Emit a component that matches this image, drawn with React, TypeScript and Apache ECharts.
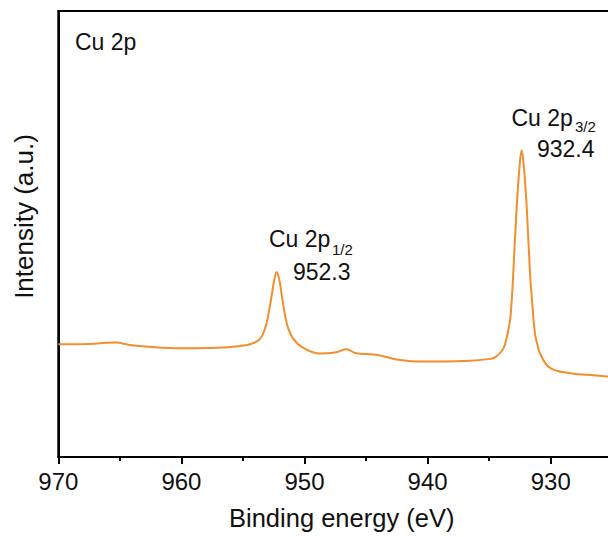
import React, { useEffect, useRef } from "react";
import * as echarts from "echarts";

// Binding energy (eV) and intensity (a.u., 0-100 scale)
const energies = [
  970.0, 968.0, 966.6, 965.3, 964.2, 962.6, 959.9, 957.1, 955.24, 954.29,
  953.61, 953.21, 952.94, 952.66, 952.47, 952.26, 952.03, 951.85, 951.58, 951.32,
  950.91, 950.23, 948.74, 947.4, 946.6, 945.8, 944.4, 943.6, 942.9, 942.2,
  940.9, 938.5, 937.1, 934.9, 934.39, 933.85, 933.57, 933.31, 933.17, 933.04,
  932.76, 932.54, 932.36, 932.17, 931.95, 931.68, 931.52, 931.28, 931.07, 930.87,
  930.06, 928.43, 926.81, 925.43, 924.5,
];
const intensities = [
  25.3, 25.3, 25.5, 25.7, 25.1, 24.7, 24.4, 24.5, 24.9, 25.4,
  26.5, 28.8, 31.8, 36.3, 39.5, 41.5, 39.5, 36.3, 31.8, 28.8,
  26.5, 24.7, 23.2, 23.5, 24.15, 23.25, 23.0, 22.6, 22.1, 21.75,
  21.4, 21.4, 21.5, 22.0, 22.6, 24.3, 26.8, 30.5, 35.0, 41.2,
  56.1, 64.8, 68.8, 64.8, 56.1, 41.2, 35.2, 27.7, 25.1, 23.2,
  20.0, 18.8, 18.4, 18.05, 17.9,
];

const xMin = 920;
const xMax = 970;
const xInterval = 10;

const FONT = "'Liberation Sans', Arial, sans-serif";
const LINE_COLOR = "#F28E2B";
const TEXT_COLOR = "#111";

export default function App() {
  const ref = useRef<HTMLDivElement>(null);

  useEffect(() => {
    if (!ref.current) return;
    document.body.style.overflow = "hidden";
    const chart = echarts.init(ref.current, undefined, { renderer: "svg" });
    const label = (text: string, x: number, y: number, fontSize = 23) => ({
      type: "text",
      x,
      y,
      style: {
        text,
        fontSize,
        fontFamily: FONT,
        fill: TEXT_COLOR,
        align: "left",
        verticalAlign: "middle",
      },
    });
    chart.setOption({
      animation: false,
      backgroundColor: "#ffffff",
      grid: {
        left: 58.3,
        top: 11,
        width: 615.5,
        height: 446,
        show: true,
        borderColor: "#000",
        borderWidth: 2,
        backgroundColor: "transparent",
      },
      xAxis: {
        type: "value",
        inverse: true,
        min: xMin,
        max: xMax,
        interval: xInterval,
        axisLine: { show: true, onZero: false, lineStyle: { color: "#000", width: 2 } },
        axisTick: { show: true, inside: false, length: 7, lineStyle: { color: "#000", width: 2 } },
        minorTick: { show: true, splitNumber: 2, length: 4, lineStyle: { color: "#000", width: 2 } },
        axisLabel: {
          fontSize: 24,
          color: TEXT_COLOR,
          fontFamily: FONT,
          margin: 12,
          showMinLabel: false,
        },
        splitLine: { show: false },
        minorSplitLine: { show: false },
      },
      yAxis: {
        type: "value",
        min: 0,
        max: 100,
        axisLine: { show: true, lineStyle: { color: "#000", width: 2 } },
        axisTick: { show: false },
        axisLabel: { show: false },
        splitLine: { show: false },
      },
      series: [
        {
          type: "line",
          data: energies.map((e, i) => [e, intensities[i]]),
          showSymbol: false,
          smooth: 0.4,
          lineStyle: { color: LINE_COLOR, width: 2 },
          itemStyle: { color: LINE_COLOR },
          clip: true,
        },
      ],
      graphic: [
        {
          type: "text",
          x: 24,
          y: 216.5,
          rotation: Math.PI / 2,
          style: {
            text: "Intensity (a.u.)",
            fontSize: 26,
            fontFamily: FONT,
            fill: TEXT_COLOR,
            align: "center",
            verticalAlign: "middle",
          },
        },
        {
          type: "text",
          x: 341.7,
          y: 518,
          style: {
            text: "Binding energy (eV)",
            fontSize: 25.5,
            fontFamily: FONT,
            fill: TEXT_COLOR,
            align: "center",
            verticalAlign: "middle",
          },
        },
        label("Cu 2p", 75, 42),
        label("Cu 2p", 269, 239),
        label("1/2", 332, 249.5, 15),
        label("952.3", 293, 271.5),
        label("Cu 2p", 511.5, 117.5),
        label("3/2", 575, 126, 15),
        label("932.4", 537, 148.5),
      ],
    });
    return () => {
      chart.dispose();
    };
  }, []);

  return (
    <div
      ref={ref}
      style={{ position: "fixed", left: 0, top: 0, width: 700, height: 537 }}
    />
  );
}
